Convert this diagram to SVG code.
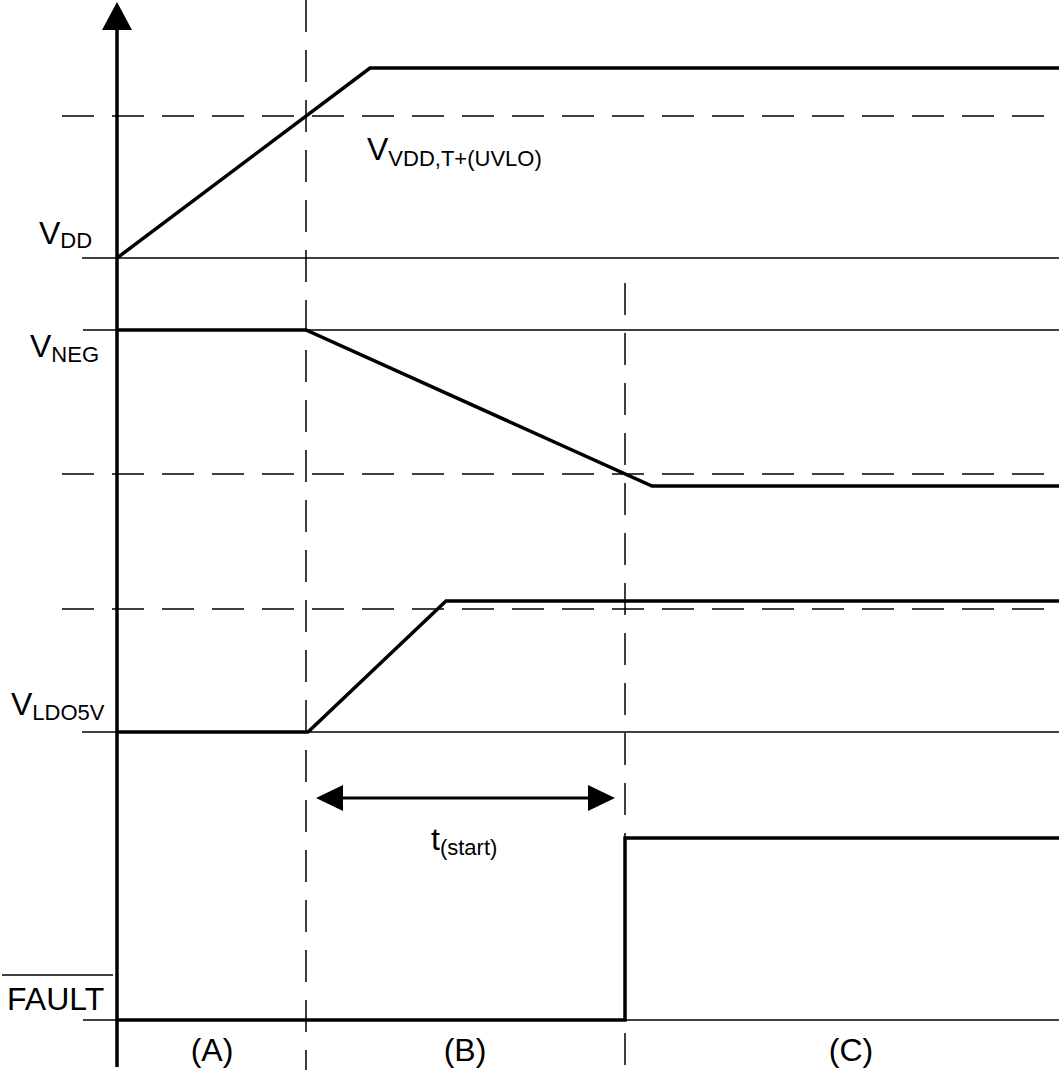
<svg xmlns="http://www.w3.org/2000/svg" width="1059" height="1075" viewBox="0 0 1059 1075">
<style>
.thin{stroke:#000;stroke-width:1.5;fill:none}
.thick{stroke:#000;stroke-width:3.5;fill:none;stroke-linejoin:miter}
.dash{stroke:#000;stroke-width:1.5;fill:none;stroke-dasharray:32 18}
text{font-family:"Liberation Sans",Arial,sans-serif;fill:#000}
.m{font-size:32px}
.s{font-size:22px}
</style>
<rect width="1059" height="1075" fill="#fff"/>
<g id="guides">
<line class="dash" x1="62" y1="116" x2="1059" y2="116"/>
<line class="dash" x1="62" y1="474" x2="1059" y2="474"/>
<line class="dash" x1="62" y1="609" x2="1059" y2="609"/>
<line class="dash" x1="306" y1="0" x2="306" y2="1070"/>
<line class="dash" x1="625" y1="283" x2="625" y2="1065"/>
</g>
<g id="axis">
<line x1="117" y1="28" x2="117" y2="1067" stroke="#000" stroke-width="3.5"/>
<polygon points="117,2 102,30 132,30" fill="#000"/>
</g>
<g id="vdd">
<line class="thin" x1="82" y1="258" x2="1059" y2="258"/>
<polyline class="thick" points="117,258 370,68 1059,68"/>
<text class="m" x="39" y="244">V<tspan class="s" dy="4">DD</tspan></text>
<text class="m" x="367" y="160">V<tspan class="s" dy="6">VDD,T+(UVLO)</tspan></text>
</g>
<g id="vneg">
<line class="thin" x1="83" y1="330" x2="1059" y2="330"/>
<polyline class="thick" points="117,330 306,330 652,486 1059,486"/>
<text class="m" x="30" y="357">V<tspan class="s" dy="5">NEG</tspan></text>
</g>
<g id="vldo5v">
<line class="thin" x1="82" y1="732" x2="1059" y2="732"/>
<polyline class="thick" points="117,732 308,732 446,601 1059,601"/>
<text class="m" x="11" y="715">V<tspan class="s" dy="5">LDO5V</tspan></text>
</g>
<g id="tstart">
<line x1="335" y1="798" x2="596" y2="798" stroke="#000" stroke-width="3"/>
<polygon points="316,798 343,785 343,811" fill="#000"/>
<polygon points="615,798 588,785 588,811" fill="#000"/>
<text class="m" x="431" y="850">t<tspan class="s" dy="5">(start)</tspan></text>
</g>
<g id="fault">
<line class="thin" x1="83" y1="1020" x2="1059" y2="1020"/>
<polyline class="thick" points="117,1020 625,1020 625,838 1059,838"/>
<line class="thin" x1="2" y1="975" x2="113" y2="975"/>
<text class="m" x="7" y="1010">FAULT</text>
</g>
<g id="phases">
<text class="m" x="212" y="1061" text-anchor="middle">(A)</text>
<text class="m" x="465" y="1061" text-anchor="middle">(B)</text>
<text class="m" x="851" y="1061" text-anchor="middle">(C)</text>
</g>
</svg>
